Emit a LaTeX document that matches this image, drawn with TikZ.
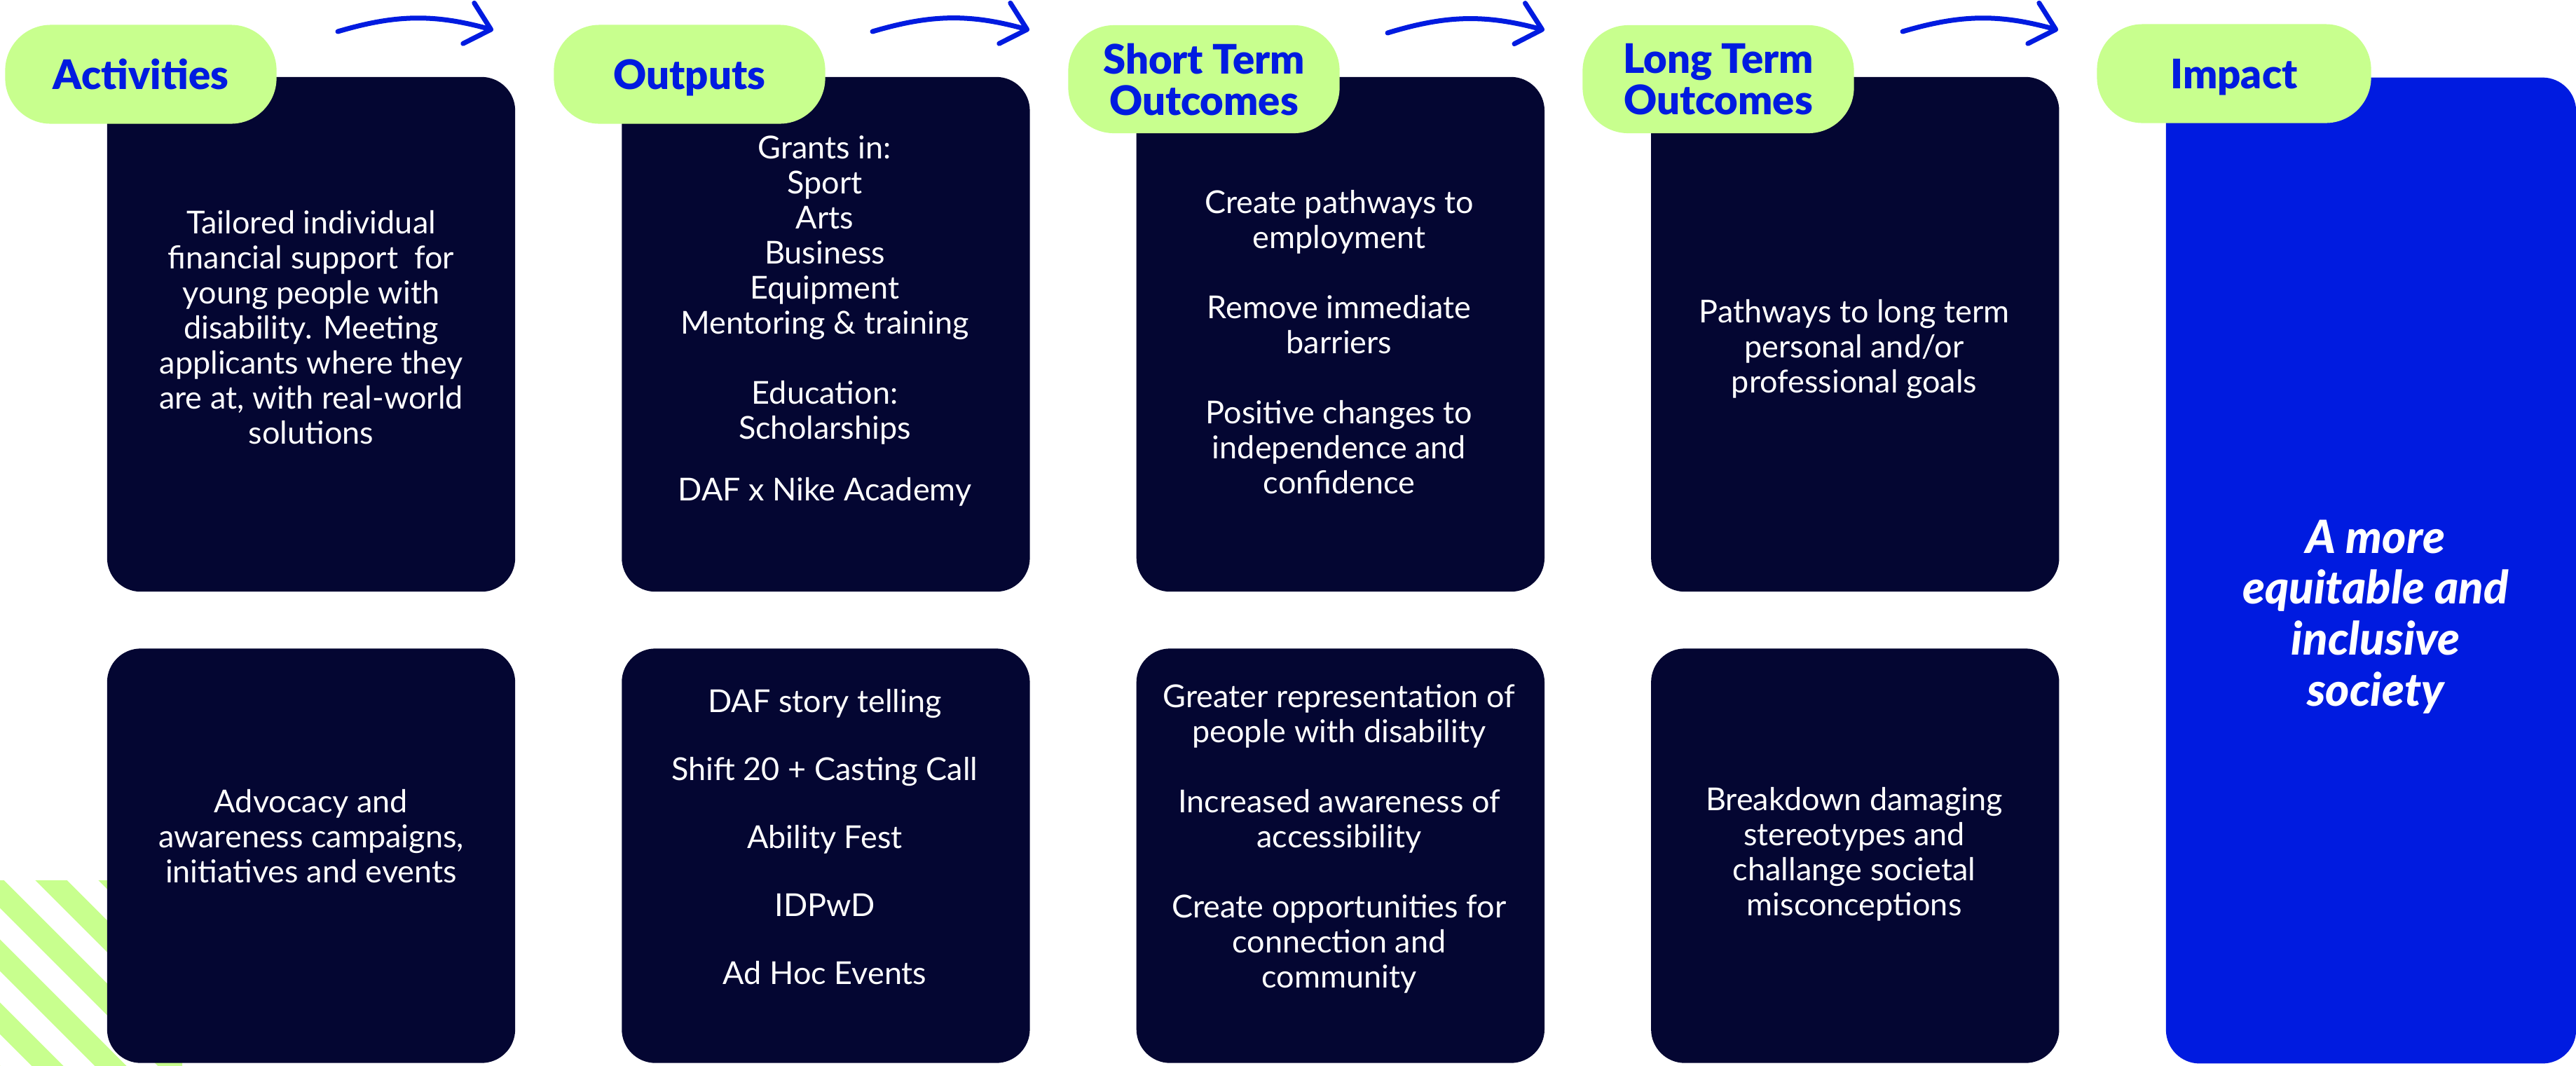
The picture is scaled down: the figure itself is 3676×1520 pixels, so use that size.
\documentclass[tikz,border=0pt]{standalone}
\usepackage{fontspec}
\setmainfont{Lato}
\newfontfamily\headfont{Lato Black}[ItalicFont={Lato Black Italic}]
\usetikzlibrary{arrows.meta}
\definecolor{dafgreen}{RGB}{200,255,142}
\definecolor{dafblue}{RGB}{0,27,224}
\definecolor{dafnavy}{RGB}{4,6,50}

\begin{document}
\begin{tikzpicture}[x=0.01cm, y=-0.01cm, node distance=7.34cm,
	pill/.style={fill=dafgreen, rounded corners=0.65cm, minimum width=3.87cm, minimum height=1.41cm, inner sep=0pt, text depth=0pt, align=center, text=dafblue, font=\headfont\fontsize{16.5}{16.8}\selectfont},
	topbox/.style={fill=dafnavy, rounded corners=0.48cm, minimum width=5.82cm, minimum height=7.34cm, inner sep=0pt},
	lowbox/.style={topbox, minimum height=5.91cm},
	body/.style={text=white, align=center, font=\fontsize{12.8}{14.2}\selectfont},
	stripe/.style={dafgreen, line width=0.32cm},
	flow/.style={-{Straight Barb[length=0.33cm, width=0.6cm, round]}, line width=0.07cm, line cap=round, dafblue}]
	\useasboundingbox (0,0) rectangle (3676,1520);
	\fill[white] (0,0) rectangle (3676,1520);

	% green stripes, bottom left
	\begin{scope}
		\clip (0,1256) rectangle (260,1520);
		\draw[stripe] (-343,1200) -- ++(380,380) (-253,1200) -- ++(380,380) (-163,1200) -- ++(380,380)
			(-73,1200) -- ++(380,380) (17,1200) -- ++(380,380) (107,1200) -- ++(380,380);
	\end{scope}

	% boxes
	\node[topbox] (actbox) at (444,477) {};
	\node[topbox] (outbox) [right of=actbox] {};
	\node[topbox] (stobox) [right of=outbox] {};
	\node[topbox] (ltobox) [right of=stobox] {};
	\node[lowbox] (actlow) at (444,1221) {};
	\node[lowbox] (outlow) [right of=actlow] {};
	\node[lowbox] (stolow) [right of=outlow] {};
	\node[lowbox] (ltolow) [right of=stolow] {};
	\node[topbox, fill=dafblue, minimum width=5.85cm, minimum height=14.06cm] (impbox) at (3383.5,814) {};

	% texts
	\node[body] (acttxt) at (444,467) {Tailored individual\\financial support \ for\\young people with\\disability. Meeting\\applicants where they\\are at, with real-world\\solutions};
	\node[body] (outtxt) at (1177,458) {Grants in:\\Sport\\Arts\\Business\\Equipment\\Mentoring \& training\\[14.2pt]Education:\\Scholarships\\[11pt]DAF x Nike Academy};
	\node[body] (stotxt) at (1911,488) {Create pathways to\\employment\\[14.2pt]Remove immediate\\barriers\\[14.2pt]Positive changes to\\independence and\\confidence};
	\node[body] (ltotxt) at (2646,498) {Pathways to long term\\personal and/or\\professional goals};
	\node[body] (actlowtxt) at (444,1193) {Advocacy and\\awareness campaigns,\\initiatives and events};
	\node[body] (outlowtxt) at (1177,1194) {DAF story telling\\[13.4pt]Shift 20 + Casting Call\\[13.4pt]Ability Fest\\[13.4pt]IDPwD\\[13.4pt]Ad Hoc Events};
	\node[body] (stolowtxt) at (1911,1197) {Greater representation of\\people with disability\\[14.2pt]Increased awareness of\\accessibility\\[14.2pt]Create opportunities for\\connection and\\community};
	\node[body] (ltolowtxt) at (2646,1219) {Breakdown damaging\\stereotypes and\\challange societal\\misconceptions};
	\node[body, font=\headfont\itshape\fontsize{18.6}{20.7}\selectfont] (imptxt) at (3390,880) {A more\\equitable and\\inclusive\\society};

	% headings
	\node[pill] (actlab) at (201,106) {Activities};
	\node[pill] (outlab) at (984,106) {Outputs};
	\node[pill, minimum height=1.54cm] (stolab) at (1718,113) {Short Term\\Outcomes};
	\node[pill, minimum height=1.54cm] (ltolab) at (2452,113) {Long Term\\Outcomes};
	\node[pill, minimum width=3.91cm] (implab) at (3188,105) {Impact};

	% arrows
	\coordinate (f1a) at (482,45);
	\coordinate (f1b) at (704,43);
	\coordinate (f2a) at (1245,45);
	\coordinate (f2b) at (1469,43);
	\coordinate (f3a) at (1980,47);
	\coordinate (f3b) at (2204,43);
	\coordinate (f4a) at (2715,45);
	\coordinate (f4b) at (2937,43);
	\draw[flow] (f1a) to[bend left=16] (f1b);
	\draw[flow] (f2a) to[bend left=16] (f2b);
	\draw[flow] (f3a) to[bend left=16] (f3b);
	\draw[flow] (f4a) to[bend left=16] (f4b);
\end{tikzpicture}
\end{document}
